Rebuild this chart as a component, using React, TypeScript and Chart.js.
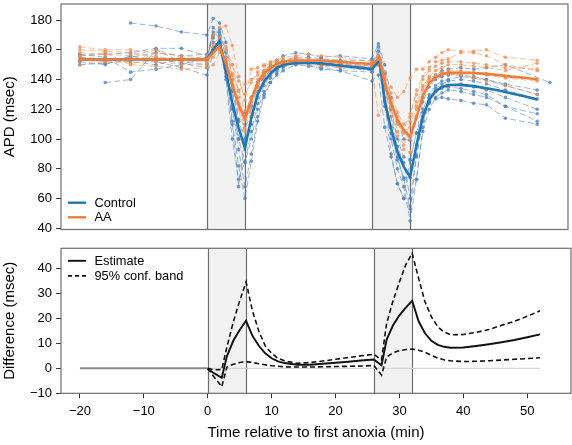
import React, { useEffect, useRef } from 'react';
import { Chart, registerables } from 'chart.js';

Chart.register(...registerables);

// ---------- data ----------
const TIMES = [-20, -16, -12, -8, -4, 0, 1, 2, 3, 4, 5, 6, 7, 8, 9, 10, 11, 12, 14, 16, 18, 21, 26, 27, 28, 29, 30, 31, 32, 33, 34, 35, 36, 37, 38, 40, 42, 44, 47, 52, 54];

const CONTROL_1 = [null, null, 178, 176, 172, 170, 181, 178, 165, 140, 113, 118, 128, 138, 145, 150, 153, 156, 158, 157, 155, 156, 154, 164, 150, 128, 112, 100, 99, 115, 128, 138, 143, 146, 147, 148, 147, 148, 150, null, 138];
const CONTROL_2 = [null, 138, 140, 160, 152, 150, 175, 170, 150, 122, 93, 68, 90, 115, 130, 138, 143, 146, 150, 151, 150, 148, 146, 159, 126, 90, 70, 60, 55, 73, 105, 120, 128, 131, 133, 132, 130, 128, 122, 117, null];
const CONTROL_3 = [157, 155, 145, 147, 150, 155, 172, 168, 148, 112, 82, 60, 85, 112, 128, 138, 144, 148, 152, 150, 147, 146, 145, 150, 125, 100, 80, 68, 45, 73, 108, 125, 132, 134, 135, 134, 132, 130, 122, 112, null];
const CONTROL_4 = [150, 151, 153, 154, 151, 148, 165, 163, 140, 100, 73, 85, 105, 124, 136, 143, 147, 150, 152, 153, 152, 151, 149, 156, 136, 115, 95, 84, 60, 89, 115, 128, 134, 137, 139, 140, 139, 137, 133, 127, null];
const CONTROL_5 = [155, 153, 155, 158, 156, 157, 170, 172, 155, 133, 112, 100, 110, 128, 140, 147, 150, 152, 153, 152, 150, 149, 148, 162, 144, 120, 100, 88, 86, 104, 125, 135, 140, 142, 143, 143, 142, 140, 136, 130, null];
const CONTROL_6 = [153, 154, 152, 150, 154, 153, 160, 165, 150, 120, 100, 84, 100, 120, 132, 141, 146, 149, 151, 151, 150, 149, 147, 153, 128, 108, 88, 73, 53, 88, 112, 126, 132, 135, 136, 137, 135, 133, 128, 120, null];
const CONTROL_7 = [152, 150, 156, 152, 148, 143, 158, 166, 142, 110, 68, 99, 115, 132, 143, 148, 151, 153, 155, 155, 154, 153, 153, 152, 122, 104, 86, 74, 74, 96, 120, 130, 136, 139, 140, 142, 141, 140, 137, 133, null];
const CONTROL_8 = [156, 157, 158, 161, 161, 156, 168, 174, 158, 132, 100, 110, 122, 135, 142, 146, 148, 150, 150, 149, 148, 146, 139, 143, 108, 88, 70, 60, 86, 104, 118, 124, 127, 128, 127, 126, 124, 123, 114, 110, null];

const AA_1 = [162, 160, 160, 158, 156, 154, 170, 175, 176, 163, 142, 126, 147, 148, 150, 152, 153, 155, 156, 157, 156, 155, 152, 156, 140, 135, 128, 132, 141, 147, 147, 152, 155, 158, 160, 159, 159, 160, 155, 153, null];
const AA_2 = [158, 157, 156, 160, 155, 152, 160, 165, 150, 144, 133, 119, 128, 140, 146, 149, 151, 153, 154, 154, 153, 152, 151, 155, 137, 124, 112, 105, 108, 122, 135, 142, 146, 148, 150, 150, 149, 148, 146, 151, null];
const AA_3 = [155, 154, 153, 152, 150, 150, 155, 160, 145, 137, 124, 107, 120, 135, 143, 147, 149, 150, 151, 150, 149, 148, 150, 153, 128, 115, 102, 93, 91, 114, 130, 138, 142, 144, 145, 145, 144, 143, 141, 139, null];
const AA_4 = [153, 152, 154, 156, 152, 153, 158, 162, 152, 140, 128, 113, 125, 138, 145, 148, 150, 152, 153, 152, 151, 150, 149, 154, 133, 120, 110, 104, 100, 120, 133, 140, 143, 145, 146, 146, 145, 144, 142, 140, null];
const AA_5 = [156, 158, 150, 149, 147, 148, 150, 158, 155, 150, 139, 130, 138, 145, 149, 151, 152, 153, 154, 153, 152, 151, 148, 116, 125, 131, 118, 110, 115, 133, 142, 148, 152, 153, 154, 158, 158, 156, 150, 146, null];
const AA_6 = [150, 152, 151, 153, 154, 151, 162, 165, 160, 143, 120, 105, 118, 132, 141, 146, 149, 151, 152, 152, 151, 149, 147, 150, 142, 122, 105, 96, 112, 125, 136, 141, 143, 144, 144, 143, 141, 139, 136, 130, null];
const AA_7 = [160, 159, 158, 155, 153, 156, 164, 168, 162, 150, 132, 137, 140, 143, 146, 148, 150, 151, 152, 152, 151, 150, 151, 155, 145, 127, 115, 106, 117, 130, 140, 146, 149, 151, 152, 152, 151, 150, 148, 147, null];

const FIT_T = [-20, 0, 1, 2, 3, 4, 5, 6, 7, 8, 9, 10, 11, 12, 14, 16, 18, 20, 22, 24, 26, 27.2, 28, 29, 30, 31, 32, 33, 34, 35, 36, 37, 38, 40, 42, 44, 46, 48, 50, 52];
const CONTROL_FIT = [153.5, 153.5, 160, 166, 145, 124.5, 107.5, 94, 114, 130, 138.5, 144, 147.8, 149.8, 151.2, 151.3, 151, 150, 149, 148, 147, 153.2, 125, 107, 91.5, 81.5, 74.5, 95.8, 115, 126.5, 132.2, 135, 136.3, 136.4, 135.6, 134.2, 132.6, 130.7, 128.8, 126.6];
const AA_FIT = [153.5, 153.5, 158, 162.5, 151, 136, 123, 113.5, 126.5, 138, 144, 147.8, 150.5, 152, 152.7, 152.8, 152.8, 152.2, 151.6, 151, 150.5, 154.4, 137, 124, 113, 106, 101.5, 114.5, 129, 137.5, 141.5, 143.5, 144.5, 144.6, 144.4, 143.8, 143, 142, 141.2, 140.2];

const DIFF_T = [0, 1, 2.2, 3, 4, 5, 6, 7, 8, 9, 10, 11, 12, 14, 16, 18, 20, 22, 24, 26, 27.2, 28, 29, 30, 31, 32, 33, 34, 35, 36, 37, 38, 40, 42, 44, 46, 48, 50, 52];
const ESTIMATE = [-0.3, -2, -3.8, 4.8, 11, 15.3, 19, 13, 9, 6, 4, 2.8, 2.1, 1.4, 1.4, 1.8, 2.2, 2.6, 3.1, 3.5, 1.2, 11.5, 17.2, 21.2, 24.3, 27, 18.8, 14, 11, 9.4, 8.6, 8.2, 8.3, 8.9, 9.6, 10.4, 11.3, 12.4, 13.6];
const UPPER = [0, -0.6, -0.5, 8.5, 18.5, 27, 34.5, 23, 14.8, 9, 6, 4, 3, 2, 2.3, 2.9, 3.6, 4.3, 5, 5.6, 3.4, 18, 27, 34.5, 41.5, 46, 36, 26.6, 20.6, 16.6, 14.5, 13.4, 13.5, 14.4, 15.5, 17.2, 18.8, 20.8, 23];
const LOWER = [0, -3.5, -7.4, 0.5, 1.6, 2.3, 2.7, 2.3, 1.8, 1.4, 1, 0.8, 0.6, 0.5, 0.5, 0.6, 0.7, 0.8, 0.9, 1.1, -2.7, 4.5, 6.2, 7, 7.5, 7.7, 7.2, 6.4, 5.2, 4.1, 3.4, 3, 2.7, 2.8, 3, 3.3, 3.6, 3.9, 4.2];

const BASELINE_T = [-20, 0];
const BASELINE_V = [0, 0];
const REF_T = [0, 52];
const REF_V = [0, 0];

const ANOXIA_START = [0, 26];
const ANOXIA_END = [6, 32];

const X_TICKS = [-20, -10, 0, 10, 20, 30, 40, 50];
const APD_TICKS = [40, 60, 80, 100, 120, 140, 160, 180];
const DIFF_TICKS = [-10, 0, 10, 20, 30, 40];

const X_MIN = -22.96;
const X_MAX = 56.85;

const CONTROL_SERIES = [CONTROL_1, CONTROL_2, CONTROL_3, CONTROL_4, CONTROL_5, CONTROL_6, CONTROL_7, CONTROL_8];
const AA_SERIES = [AA_1, AA_2, AA_3, AA_4, AA_5, AA_6, AA_7];

// ---------- helpers ----------
const FONT = "'Liberation Sans', Arial, Helvetica, sans-serif";
const BLUE = '#1f77b4';
const ORANGE = '#ee7f3b';

function pts(ts: number[], vs: (number | null)[]) {
  const out: { x: number; y: number }[] = [];
  ts.forEach((t, i) => {
    const v = vs[i];
    if (v !== null && v !== undefined) out.push({ x: t, y: v });
  });
  return out;
}

const fmt = (v: any) => String(v).replace('-', '\u2212');

function fitY(scale: any) {
  scale.width = 61;
  scale.paddingTop = 0;
  scale.paddingBottom = 0;
  scale.paddingLeft = 0;
  scale.paddingRight = 0;
}
function fitX(scale: any) {
  scale.height = 51.7;
  scale.paddingTop = 0;
  scale.paddingBottom = 0;
  scale.paddingLeft = 0;
  scale.paddingRight = 0;
}

type LegendItem = { label: string; color: string; dash: number[]; width: number; dy: number };

function framePlugin(legend: LegendItem[], legendFromBottom: boolean) {
  return {
    id: 'frame',
    beforeDatasetsDraw(chart: any) {
      const { ctx, chartArea: a, scales } = chart;
      const x = scales.x;
      ctx.save();
      ctx.fillStyle = '#f2f2f2';
      ANOXIA_START.forEach((s, i) => {
        const x0 = x.getPixelForValue(s);
        const x1 = x.getPixelForValue(ANOXIA_END[i]);
        ctx.fillRect(x0, a.top, x1 - x0, a.bottom - a.top);
      });
      ctx.strokeStyle = '#6e6e6e';
      ctx.lineWidth = 1.2;
      [...ANOXIA_START, ...ANOXIA_END].forEach((v) => {
        const px = Math.round(x.getPixelForValue(v)) + 0.5;
        ctx.beginPath();
        ctx.moveTo(px, a.top);
        ctx.lineTo(px, a.bottom);
        ctx.stroke();
      });
      ctx.restore();
    },
    afterDraw(chart: any) {
      const { ctx, chartArea: a } = chart;
      ctx.save();
      ctx.strokeStyle = '#6e6e6e';
      ctx.lineWidth = 1.2;
      ctx.strokeRect(a.left, a.top, a.right - a.left, a.bottom - a.top);
      ctx.font = `12.8px ${FONT}`;
      ctx.textBaseline = 'middle';
      ctx.textAlign = 'left';
      legend.forEach((it) => {
        const y = legendFromBottom ? a.bottom - it.dy : a.top + it.dy;
        ctx.strokeStyle = it.color;
        ctx.lineWidth = it.width;
        ctx.setLineDash(it.dash);
        ctx.beginPath();
        ctx.moveTo(a.left + 7, y);
        ctx.lineTo(a.left + 25, y);
        ctx.stroke();
        ctx.setLineDash([]);
        ctx.fillStyle = '#000';
        ctx.fillText(it.label, a.left + 33.5, y + 0.5);
      });
      ctx.restore();
    },
  };
}

function yAxis(min: number, max: number, ticks: number[], title: string) {
  return {
    type: 'linear',
    min,
    max,
    afterBuildTicks: (s: any) => {
      s.ticks = ticks.map((v) => ({ value: v }));
    },
    afterFit: fitY,
    grid: { drawOnChartArea: false, drawTicks: true, tickLength: 5, color: '#333', lineWidth: 1 },
    border: { display: false },
    ticks: { font: { family: FONT, size: 13 }, color: '#000', padding: 4, callback: fmt, autoSkip: false },
    title: { display: true, text: title, font: { family: FONT, size: 15 }, color: '#000', padding: { top: 0.5, bottom: 0 } },
  };
}

export default function App() {
  const topRef = useRef<HTMLCanvasElement>(null);
  const botRef = useRef<HTMLCanvasElement>(null);

  useEffect(() => {
    const individual = (series: (number | null)[][], line: string, dot: string, order: number) =>
      series.map((vs) => ({
        data: pts(TIMES, vs),
        borderColor: line,
        borderWidth: 1,
        borderDash: [6, 3],
        pointRadius: 1.8,
        pointBorderWidth: 0,
        pointBackgroundColor: dot,
        order,
      }));

    const top = new Chart(topRef.current as HTMLCanvasElement, {
      type: 'line',
      data: {
        datasets: [
          { data: pts(FIT_T, AA_FIT), borderColor: ORANGE, borderWidth: 2.6, pointRadius: 0, order: 0 },
          { data: pts(FIT_T, CONTROL_FIT), borderColor: BLUE, borderWidth: 2.6, pointRadius: 0, order: 1 },
          ...individual(AA_SERIES, 'rgba(241,150,95,0.6)', 'rgba(240,140,80,0.75)', 2),
          ...individual(CONTROL_SERIES, 'rgba(85,135,195,0.6)', 'rgba(80,130,190,0.8)', 3),
        ] as any,
      },
      options: {
        animation: false,
        responsive: false,
        devicePixelRatio: 1,
        events: [],
        layout: { padding: { top: 1, right: 1, bottom: 10.5, left: 0 } },
        plugins: { legend: { display: false }, tooltip: { enabled: false } },
        elements: { line: { tension: 0 } },
        scales: {
          x: { type: 'linear', min: X_MIN, max: X_MAX, display: false },
          y: yAxis(39.2, 190.8, APD_TICKS, 'APD (msec)'),
        } as any,
      },
      plugins: [
        framePlugin(
          [
            { label: 'Control', color: BLUE, dash: [], width: 2.4, dy: 26.8 },
            { label: 'AA', color: ORANGE, dash: [], width: 2.4, dy: 12.2 },
          ],
          true
        ),
      ],
    });

    const bottom = new Chart(botRef.current as HTMLCanvasElement, {
      type: 'line',
      data: {
        datasets: [
          { data: pts(DIFF_T, ESTIMATE), borderColor: '#111', borderWidth: 1.9, pointRadius: 0, order: 0 },
          { data: pts(DIFF_T, UPPER), borderColor: '#111', borderWidth: 1.6, borderDash: [5, 3], pointRadius: 0, order: 1 },
          { data: pts(DIFF_T, LOWER), borderColor: '#111', borderWidth: 1.6, borderDash: [5, 3], pointRadius: 0, order: 2 },
          { data: pts(BASELINE_T, BASELINE_V), borderColor: '#8a8a8a', borderWidth: 2, pointRadius: 0, order: 3 },
          { data: pts(REF_T, REF_V), borderColor: '#cfcfcf', borderWidth: 1, pointRadius: 0, order: 4 },
        ] as any,
      },
      options: {
        animation: false,
        responsive: false,
        devicePixelRatio: 1,
        events: [],
        layout: { padding: { top: 8.3, right: 1, bottom: 0, left: 0 } },
        plugins: { legend: { display: false }, tooltip: { enabled: false } },
        elements: { line: { tension: 0 } },
        scales: {
          x: {
            type: 'linear',
            min: X_MIN,
            max: X_MAX,
            afterBuildTicks: (s: any) => {
              s.ticks = X_TICKS.map((v) => ({ value: v }));
            },
            afterFit: fitX,
            grid: { drawOnChartArea: false, drawTicks: true, tickLength: 5, color: '#333', lineWidth: 1 },
            border: { display: false },
            ticks: { font: { family: FONT, size: 13 }, color: '#000', padding: 5.5, callback: fmt, autoSkip: false, maxRotation: 0 },
            title: {
              display: true,
              text: 'Time relative to first anoxia (min)',
              font: { family: FONT, size: 15 },
              color: '#000',
              padding: { top: 0, bottom: 3 },
            },
          },
          y: yAxis(-10, 48, DIFF_TICKS, 'Difference (msec)'),
        } as any,
      },
      plugins: [
        framePlugin(
          [
            { label: 'Estimate', color: '#111', dash: [], width: 1.9, dy: 12.5 },
            { label: '95% conf. band', color: '#111', dash: [4, 3], width: 1.8, dy: 27.5 },
          ],
          false
        ),
      ],
    });

    return () => {
      top.destroy();
      bottom.destroy();
    };
  }, []);

  return (
    <div style={{ position: 'absolute', left: 0, top: 0, width: 572, height: 445, background: '#fff' }}>
      <canvas ref={topRef} width={572} height={240} style={{ position: 'absolute', left: 0, top: 0, display: 'block' }} />
      <canvas ref={botRef} width={572} height={205} style={{ position: 'absolute', left: 0, top: 240, display: 'block' }} />
    </div>
  );
}
